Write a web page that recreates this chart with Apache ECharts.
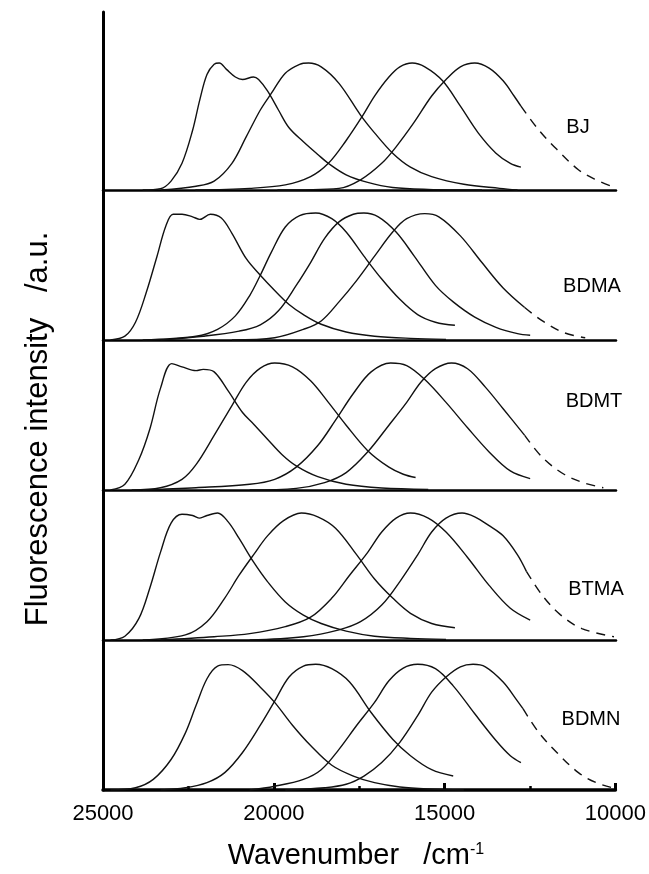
<!DOCTYPE html>
<html style="height: 100%; margin: 0">
<head>
<meta charset="UTF-8">
<title>Fluorescence spectra</title>
</head>
<body style="height: 100%; margin: 0; background: #fff">
<div id="container" style="width:649px;height:874px"></div>
<script type="text/javascript" src="https://cdn.jsdelivr.net/npm/echarts@6/dist/echarts.min.js"></script>
<script type="text/javascript">
	// panel names, top to bottom
	var panels = ['BJ', 'BDMA', 'BDMT', 'BTMA', 'BDMN'];
	var xTicks = [25000, 20000, 15000, 10000];

	// [wavenumber /cm-1, normalised intensity]
	var bj1 = [[23840,0],[23320,0.01],[23010,0.07],[22690,0.21],[22380,0.47],[22170,0.71],[21960,0.91],[21750,0.99],[21600,1.0],[21390,0.95],[21130,0.89],[20920,0.87],[20600,0.89],[20450,0.87],[20190,0.78],[19870,0.63],[19560,0.49],[19140,0.38],[18720,0.28],[18410,0.21],[17890,0.12],[17260,0.06],[16530,0.02],[15490,0.005],[13920,0]];
	var bj2 = [[23300,0],[22280,0.03],[21750,0.07],[21230,0.21],[20810,0.42],[20400,0.63],[20080,0.76],[19670,0.92],[19250,0.99],[18990,1.0],[18620,0.97],[18100,0.84],[17470,0.59],[17060,0.45],[16530,0.29],[16010,0.18],[15390,0.105],[14450,0.045],[13400,0.013],[12880,0]];
	var bj3 = [[22300,0],[20710,0.013],[19670,0.04],[18930,0.105],[18410,0.21],[17890,0.39],[17420,0.58],[17060,0.74],[16640,0.89],[16320,0.97],[15960,1.0],[15590,0.97],[15070,0.86],[14550,0.66],[14030,0.45],[13510,0.29],[13090,0.21],[12780,0.18]];
	var bj4 = [[19900,0],[18100,0.013],[17470,0.08],[16850,0.21],[16430,0.34],[15910,0.53],[15390,0.74],[14970,0.87],[14550,0.97],[14130,1.0],[13710,0.96],[13300,0.86],[12980,0.74],[12780,0.66]];
	var bj4d = [[12780,0.66],[12250,0.47],[11730,0.32],[11100,0.16],[10580,0.08],[10050,0.02]];

	var bdma1 = [[24780,0],[24360,0.03],[24050,0.14],[23740,0.37],[23420,0.66],[23160,0.9],[22950,0.99],[22690,0.99],[22380,0.97],[22170,0.95],[21860,0.99],[21540,0.96],[21230,0.84],[20810,0.64],[20400,0.51],[19980,0.39],[19560,0.28],[19140,0.2],[18620,0.124],[17890,0.063],[17060,0.03],[16010,0.013],[14970,0.005]];
	var bdma2 = [[23840,0],[22280,0.03],[21650,0.084],[21130,0.19],[20710,0.35],[20400,0.51],[20080,0.69],[19670,0.89],[19250,0.98],[18780,1.0],[18310,0.955],[17890,0.85],[17370,0.66],[16850,0.48],[16320,0.32],[15800,0.2],[15280,0.14],[14710,0.116]];
	var bdma3 = [[23320,0],[22070,0.03],[21020,0.07],[20400,0.12],[19870,0.23],[19350,0.43],[18930,0.61],[18520,0.8],[18100,0.93],[17680,0.99],[17370,1.0],[16950,0.97],[16430,0.85],[15910,0.665],[15280,0.43],[14760,0.3],[14130,0.18],[13510,0.1],[12880,0.05],[12510,0.037]];
	var bdma4 = [[21230,0],[19980,0.018],[19140,0.084],[18620,0.15],[18100,0.3],[17580,0.47],[17060,0.66],[16530,0.85],[16120,0.955],[15590,0.995],[15180,0.97],[14550,0.82],[13920,0.61],[13300,0.41],[12670,0.256]];
	var bdma4d = [[12670,0.256],[12150,0.15],[11520,0.058],[10900,0.018]];

	var bdmt1 = [[24780,0],[24360,0.045],[23950,0.24],[23630,0.48],[23320,0.8],[22990,0.995],[22690,0.97],[22280,0.94],[22070,0.95],[21750,0.93],[21340,0.78],[20920,0.61],[20600,0.52],[20190,0.4],[19770,0.28],[19350,0.19],[18720,0.105],[17890,0.045],[16850,0.016],[15490,0.005]];
	var bdmt2 = [[24160,0],[23320,0.018],[22690,0.084],[22280,0.2],[21750,0.43],[21230,0.665],[20810,0.85],[20400,0.96],[19980,1.0],[19460,0.97],[18930,0.86],[18410,0.69],[17890,0.51],[17260,0.31],[16640,0.18],[16220,0.124],[15860,0.098]];
	var bdmt3 = [[23840,0],[22280,0.018],[20710,0.045],[19980,0.084],[19350,0.18],[18720,0.35],[18200,0.55],[17680,0.76],[17160,0.93],[16590,1.0],[16120,0.98],[15590,0.87],[14970,0.69],[14340,0.49],[13710,0.3],[13090,0.15],[12510,0.09]];
	var bdmt4 = [[20710,0],[19350,0.013],[18520,0.058],[17890,0.137],[17260,0.3],[16640,0.51],[16120,0.69],[15700,0.85],[15280,0.955],[14810,1.0],[14340,0.955],[13820,0.81],[13300,0.64],[12670,0.43]];
	var bdmt4d = [[12670,0.43],[12150,0.256],[11520,0.124],[10900,0.053],[10370,0.018]];

	var btma1 = [[24780,0],[24360,0.03],[23950,0.17],[23630,0.41],[23320,0.69],[23010,0.92],[22690,0.99],[22380,0.98],[22170,0.96],[21960,0.98],[21650,1.0],[21340,0.93],[21020,0.8],[20600,0.615],[20190,0.46],[19670,0.3],[19140,0.196],[18620,0.13],[17890,0.07],[17060,0.03],[16010,0.013],[14970,0.005]];
	var btma2 = [[23840,0],[22590,0.04],[21960,0.144],[21440,0.33],[21020,0.51],[20600,0.67],[20190,0.82],[19720,0.94],[19200,1.0],[18720,0.97],[18200,0.88],[17580,0.67],[17060,0.48],[16530,0.33],[16010,0.21],[15390,0.13],[14710,0.097]];
	var btma3 = [[23320,0],[21750,0.026],[20710,0.05],[19670,0.105],[18930,0.18],[18310,0.33],[17790,0.51],[17260,0.69],[16850,0.85],[16430,0.96],[16010,1.0],[15490,0.96],[14970,0.85],[14340,0.65],[13710,0.43],[13090,0.25],[12510,0.157]];
	var btma4 = [[20710,0],[19140,0.026],[18100,0.08],[17470,0.144],[16850,0.275],[16320,0.46],[15800,0.67],[15390,0.85],[14970,0.96],[14500,1.0],[14130,0.97],[13710,0.9],[13300,0.82],[12880,0.67],[12620,0.54]];
	var btma4d = [[12620,0.54],[12150,0.35],[11630,0.2],[11000,0.09],[10060,0.026]];

	var bdmn1 = [[24780,0],[24050,0.018],[23530,0.084],[23010,0.24],[22590,0.45],[22280,0.665],[21960,0.876],[21650,0.976],[21340,0.987],[20920,0.94],[20400,0.81],[19980,0.69],[19460,0.51],[18930,0.35],[18310,0.195],[17680,0.11],[17060,0.058],[16320,0.024],[15490,0.008],[14450,0]];
	var bdmn2 = [[23320,0],[22590,0.018],[21960,0.058],[21440,0.137],[20920,0.295],[20400,0.51],[19980,0.7],[19560,0.89],[19140,0.976],[18780,0.99],[18310,0.955],[17790,0.85],[17160,0.61],[16530,0.4],[16010,0.27],[15390,0.16],[14760,0.11]];
	var bdmn3 = [[20710,0],[19980,0.03],[19140,0.084],[18620,0.16],[18100,0.32],[17580,0.51],[17060,0.69],[16640,0.86],[16220,0.96],[15800,0.99],[15280,0.955],[14760,0.82],[14130,0.6],[13510,0.39],[13090,0.27],[12780,0.216]];
	var bdmn4 = [[19670,0],[18520,0.018],[17890,0.045],[17370,0.11],[16850,0.216],[16320,0.375],[15800,0.585],[15390,0.77],[14970,0.89],[14550,0.97],[14180,0.99],[13820,0.97],[13300,0.85],[12880,0.7],[12720,0.64]];
	var bdmn4d = [[12720,0.64],[12250,0.45],[11730,0.295],[11100,0.137],[10580,0.058],[10110,0.018]];

	var solid = [
		[bj1, bj2, bj3, bj4],
		[bdma1, bdma2, bdma3, bdma4],
		[bdmt1, bdmt2, bdmt3, bdmt4],
		[btma1, btma2, btma3, btma4],
		[bdmn1, bdmn2, bdmn3, bdmn4]
	];
	var dashed = [bj4d, bdma4d, bdmt4d, btma4d, bdmn4d];

	var FONT = '"Liberation Sans", Arial, sans-serif';
	var baseY = [190, 340, 490, 640, 790];
	var labelPos = [[578, 127], [592, 286], [594, 401], [596, 589], [591, 719]];

	var dom = document.getElementById("container");
	var myChart = echarts.init(dom, null, {renderer: 'canvas'});

	var grids = [], xAxes = [], yAxes = [], series = [], graphics = [];
	for (var i = 0; i < panels.length; i++) {
		grids.push({left: 103, right: 33, top: baseY[i] - 150, height: 150});
		xAxes.push({
			gridIndex: i, type: 'value', min: 10000, max: 25000, inverse: true,
			axisLine: {show: i < 4, onZero: false, lineStyle: {color: '#000', width: 2.5}},
			axisTick: {show: false}, axisLabel: {show: false}, splitLine: {show: false}
		});
		yAxes.push({gridIndex: i, type: 'value', min: 0, max: 150 / 127, show: false});
		for (var k = 0; k < 4; k++) {
			series.push({
				type: 'line', xAxisIndex: i, yAxisIndex: i, data: solid[i][k],
				symbol: 'none', smooth: 0.35, silent: true,
				lineStyle: {color: '#111', width: 1.4}
			});
		}
		series.push({
			type: 'line', xAxisIndex: i, yAxisIndex: i, data: dashed[i],
			symbol: 'none', smooth: 0.35, silent: true,
			lineStyle: {color: '#111', width: 1.4, type: [9, 7]}
		});
		graphics.push({
			type: 'text', x: labelPos[i][0], y: labelPos[i][1],
			style: {text: panels[i], fill: '#000', font: '20px ' + FONT, align: 'center', verticalAlign: 'middle'}
		});
	}

	// frame axes: left line and bottom wavenumber scale
	grids.push({left: 103, right: 33, top: 12, bottom: 84});
	xAxes.push({
		gridIndex: 5, type: 'value', min: 10000, max: 25000, interval: 5000, inverse: true,
		axisLine: {show: true, onZero: false, lineStyle: {color: '#000', width: 3.5}},
		axisTick: {show: true, inside: true, length: 7, lineStyle: {color: '#000', width: 3}},
		minorTick: {show: true, splitNumber: 2, length: 4, lineStyle: {color: '#000', width: 2.5}},
		axisLabel: {
			show: true, margin: 13, color: '#000', fontSize: 22, fontFamily: FONT,
			showMinLabel: true, showMaxLabel: true,
			formatter: function (v) { return xTicks.indexOf(v) >= 0 ? String(v) : ''; }
		},
		splitLine: {show: false}
	});
	yAxes.push({
		gridIndex: 5, type: 'value', min: 0, max: 1,
		axisLine: {show: true, onZero: false, lineStyle: {color: '#000', width: 3}},
		axisTick: {show: false}, axisLabel: {show: false}, splitLine: {show: false}
	});

	graphics.push({
		type: 'text', x: 356, y: 856,
		style: {
			text: 'Wavenumber   /cm{sup|-1}', fill: '#000', font: '29px ' + FONT,
			align: 'center', verticalAlign: 'middle',
			rich: {sup: {fontSize: 16, fontFamily: FONT, verticalAlign: 'top', fill: '#000'}}
		}
	});
	graphics.push({
		type: 'text', x: 38, y: 429, rotation: Math.PI / 2,
		style: {text: 'Fluorescence intensity   /a.u.', fill: '#000', font: '31px ' + FONT, align: 'center', verticalAlign: 'middle'}
	});

	var option = {
		backgroundColor: '#fff',
		animation: false,
		grid: grids,
		xAxis: xAxes,
		yAxis: yAxes,
		series: series,
		graphic: graphics
	};
	if (option && typeof option === "object") {
		myChart.setOption(option, true);
	}
</script>
</body>
</html>
